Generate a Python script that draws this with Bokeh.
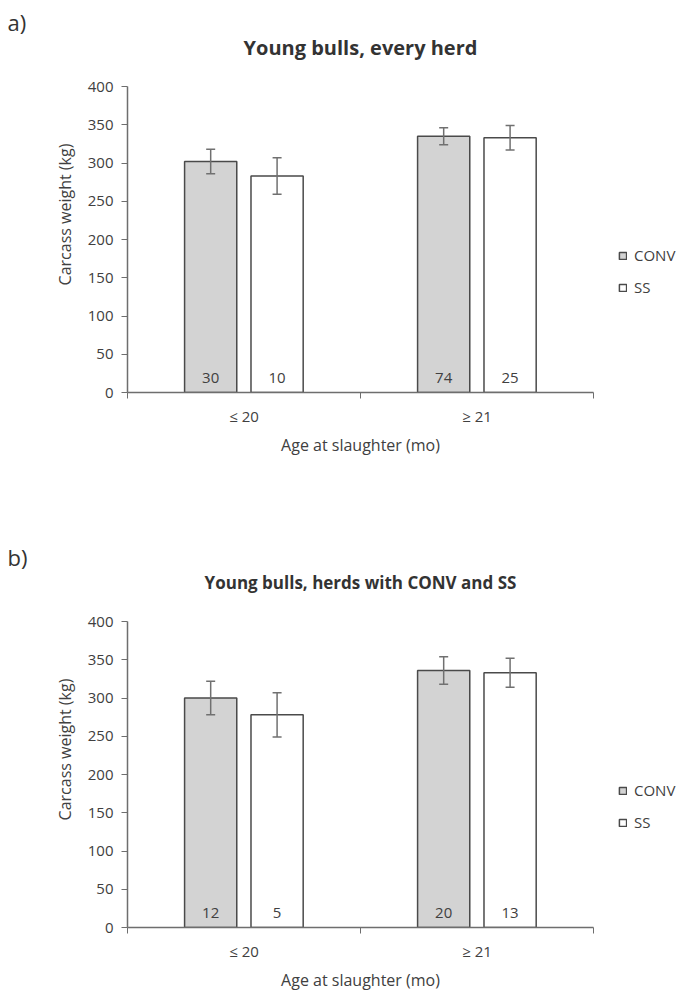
from bokeh.plotting import figure
from bokeh.models import (Range1d, FixedTicker, ColumnDataSource, Whisker, TeeHead,
                          Title, Label, Legend, LegendItem)
from bokeh.layouts import column
from bokeh.core.properties import value
from bokeh.embed import file_html
from bokeh.resources import INLINE

# ---------------- data ----------------
categories = ["≤ 20", "≥ 21"]
groups = ["CONV", "SS"]

a_conv_mean = [302, 335]
a_conv_err = [16, 11]
a_conv_n = [30, 74]
a_ss_mean = [283, 333]
a_ss_err = [24, 16]
a_ss_n = [10, 25]

b_conv_mean = [300, 336]
b_conv_err = [22, 18]
b_conv_n = [12, 20]
b_ss_mean = [278, 333]
b_ss_err = [29, 19]
b_ss_n = [5, 13]

titles = ["Young bulls, every herd", "Young bulls, herds with CONV and SS"]
panel_tags = ["a)", "b)"]
y_ticks = [0, 50, 100, 150, 200, 250, 300, 350, 400]
y_max = 400

# ---------------- style / layout ----------------
FONT = "Open Sans"
FONT_V = value(FONT)
TXT = "#404040"
AX = "#6e6e6e"
fills = {"CONV": "#d3d3d3", "SS": "#ffffff"}
offsets = {"CONV": -0.143, "SS": 0.142}
BAR_W = 0.224
title_font_sizes = ["20px", "17px"]
AXIS_PX = 306          # pixel height of the 0..400 axis
HEAD_PX = 50           # extra room above the axis for the title
FRAME_W = 466


def make_panel(tag, title, title_size, series, border_bottom):
    frame_h = AXIS_PX + HEAD_PX
    p = figure(frame_width=FRAME_W, frame_height=frame_h, output_backend="svg",
               toolbar_location=None, title=None,
               x_range=Range1d(0, len(categories)),
               y_range=Range1d(0, y_max * frame_h / AXIS_PX),
               min_border_left=127, min_border_right=88, min_border_top=36,
               min_border_bottom=border_bottom)
    p.outline_line_color = None
    p.xgrid.grid_line_color = None
    p.ygrid.grid_line_color = None
    p.background_fill_color = "white"
    p.border_fill_color = "white"

    items = []
    for g in groups:
        mean, err, n = series[g]
        xs = [i + 0.5 + offsets[g] for i in range(len(categories))]
        src = ColumnDataSource(dict(x=xs, top=mean,
                                    lo=[m - e for m, e in zip(mean, err)],
                                    hi=[m + e for m, e in zip(mean, err)],
                                    n=[str(v) for v in n]))
        r = p.vbar(x="x", top="top", bottom=0, width=BAR_W, source=src,
                   fill_color=fills[g], line_color="#4a4a4a", line_width=1.5)
        items.append(LegendItem(label=g, renderers=[r]))
        w = Whisker(base="x", lower="lo", upper="hi", source=src, level="overlay",
                    line_color="#707070", line_width=1.5,
                    upper_head=TeeHead(size=9, line_color="#707070", line_width=1.5),
                    lower_head=TeeHead(size=9, line_color="#707070", line_width=1.5))
        p.add_layout(w)
        p.text(x="x", y=0, text="n", source=src, text_align="center",
               text_baseline="middle", y_offset=-15, text_font=FONT_V,
               text_font_size="15px", text_color=TXT)

    # axes
    xa = p.xaxis[0]
    xa.ticker = FixedTicker(ticks=[i + 0.5 for i in range(len(categories))],
                            minor_ticks=list(range(len(categories) + 1)))
    xa.major_label_overrides = {i + 0.5: c for i, c in enumerate(categories)}
    xa.major_tick_out = 0
    xa.major_tick_in = 0
    xa.minor_tick_out = 6
    xa.minor_tick_in = 0
    xa.minor_tick_line_color = AX
    xa.axis_line_color = AX
    xa.axis_line_width = 1.5
    xa.major_label_standoff = 7
    xa.axis_label = "Age at slaughter (mo)"
    xa.axis_label_standoff = 5

    ya = p.yaxis[0]
    ya.bounds = (0, y_max)
    ya.ticker = FixedTicker(ticks=y_ticks)
    ya.minor_tick_line_color = None
    ya.major_tick_out = 6
    ya.major_tick_in = 0
    ya.major_tick_line_color = AX
    ya.axis_line_color = AX
    ya.axis_line_width = 1.5
    ya.major_label_standoff = 8
    ya.axis_label = "Carcass weight (kg)"
    ya.axis_label_standoff = 9

    for ax in (xa, ya):
        ax.major_label_text_font = FONT
        ax.major_label_text_font_size = "15px"
        ax.major_label_text_color = TXT
        ax.axis_label_text_font = FONT
        ax.axis_label_text_font_style = "normal"
        ax.axis_label_text_color = TXT
    xa.axis_label_text_font_size = "16px"
    ya.axis_label_text_font_size = "16px"

    legend = Legend(items=items, location=(25, 95), orientation="vertical",
                    glyph_width=9, glyph_height=9, label_height=20, spacing=12,
                    label_standoff=7, padding=0, margin=0,
                    border_line_alpha=0, background_fill_alpha=0,
                    label_text_font=FONT, label_text_font_size="15px",
                    label_text_color=TXT)
    p.add_layout(legend, "right")

    # main title inside the (extended) frame, centred over the plot area
    p.add_layout(Label(x=FRAME_W / 2, y=AXIS_PX + 39, x_units="screen", y_units="screen",
                       text=title, text_align="center", text_baseline="middle",
                       text_font=FONT, text_font_size=title_size,
                       text_font_style="bold", text_color="#333333"))
    # panel tag in the top border
    p.add_layout(Title(text=tag, align="left", offset=-120, text_font=FONT,
                       text_font_size="22px", text_font_style="normal",
                       text_color="#333333", standoff=0), "above")
    return p


pa = make_panel(panel_tags[0], titles[0], title_font_sizes[0],
                {"CONV": (a_conv_mean, a_conv_err, a_conv_n),
                 "SS": (a_ss_mean, a_ss_err, a_ss_n)}, 143)
pb = make_panel(panel_tags[1], titles[1], title_font_sizes[1],
                {"CONV": (b_conv_mean, b_conv_err, b_conv_n),
                 "SS": (b_ss_mean, b_ss_err, b_ss_n)}, 60)

layout = column(pa, pb, spacing=0)
open("out.html", "w").write(file_html(layout, INLINE))
